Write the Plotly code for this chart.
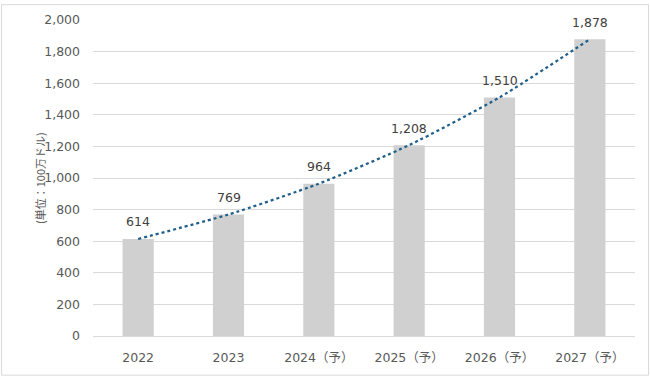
import plotly.graph_objects as go

categories = ["2022", "2023", "2024（予）", "2025（予）", "2026（予）", "2027（予）"]
values = [614, 769, 964, 1208, 1510, 1878]
y_ticks = [0, 200, 400, 600, 800, 1000, 1200, 1400, 1600, 1800, 2000]
y_title = "(単位：100万ドル)"

W, H = 650, 377
L, R, T, B = 93, 15, 17, 41

fig = go.Figure()
fig.add_trace(go.Bar(
    x=categories, y=values,
    marker=dict(color="#D0D0D0", line=dict(width=0)),
    hoverinfo="x+y",
))
fig.add_trace(go.Scatter(
    x=categories, y=values, mode="lines",
    line=dict(color="#1F5F8B", width=2.25, dash="dot", shape="spline", smoothing=0.6),
    hoverinfo="skip",
))

annotations = []
for i, v in enumerate(values):
    annotations.append(dict(
        x=i, y=v, xref="x", yref="y", text=f"{v:,}", showarrow=False,
        yshift=17, font=dict(family="DejaVu Sans, Verdana, sans-serif", size=12.5, color="#404040"),
    ))
annotations.append(dict(
    x=-(L - 30) / (W - L - R), y=0.5, xref="paper", yref="paper", text=y_title,
    showarrow=False, textangle=-90,
    font=dict(family="Noto Sans CJK JP, sans-serif", size=11, color="#595959"),
))

pw, ph = W - L - R, H - T - B
fig.update_layout(
    width=W, height=H,
    margin=dict(l=L, r=R, t=T, b=B, pad=0),
    paper_bgcolor="white", plot_bgcolor="white",
    showlegend=False,
    bargap=0.655,
    annotations=annotations,
    font=dict(family="DejaVu Sans, Verdana, sans-serif", size=12.5, color="#595959"),
    xaxis=dict(
        type="category", categoryorder="array", categoryarray=categories,
        range=[-0.5, len(categories) - 0.5],
        showgrid=False, showline=True, linecolor="#D9D9D9", linewidth=1,
        ticks="", ticklabelstandoff=10,
        tickfont=dict(family="DejaVu Sans, Verdana, Noto Sans CJK JP, sans-serif", size=12.5, color="#595959"),
    ),
    yaxis=dict(
        range=[0, 2000], tickvals=y_ticks, tickformat=",d",
        showgrid=True, gridcolor="#D9D9D9", gridwidth=1, zeroline=False,
        showline=False, ticks="", ticklabelstandoff=12,
        tickfont=dict(family="DejaVu Sans, Verdana, sans-serif", size=12.5, color="#595959"),
    ),
    shapes=[dict(
        type="rect", xref="paper", yref="paper",
        x0=-(L - 1.5) / pw, x1=1 + (R - 1.5) / pw,
        y0=-(B - 1.5) / ph, y1=1 + (T - 1.5) / ph,
        line=dict(color="#D9D9D9", width=1), layer="below",
    )],
)

fig.write_html("out.html", config={"displayModeBar": False})
with open("out.html", "r", encoding="utf-8") as f:
    html = f.read()
html = html.replace("<body>", '<body style="margin:0;padding:0;overflow:hidden">', 1)
with open("out.html", "w", encoding="utf-8") as f:
    f.write(html)
